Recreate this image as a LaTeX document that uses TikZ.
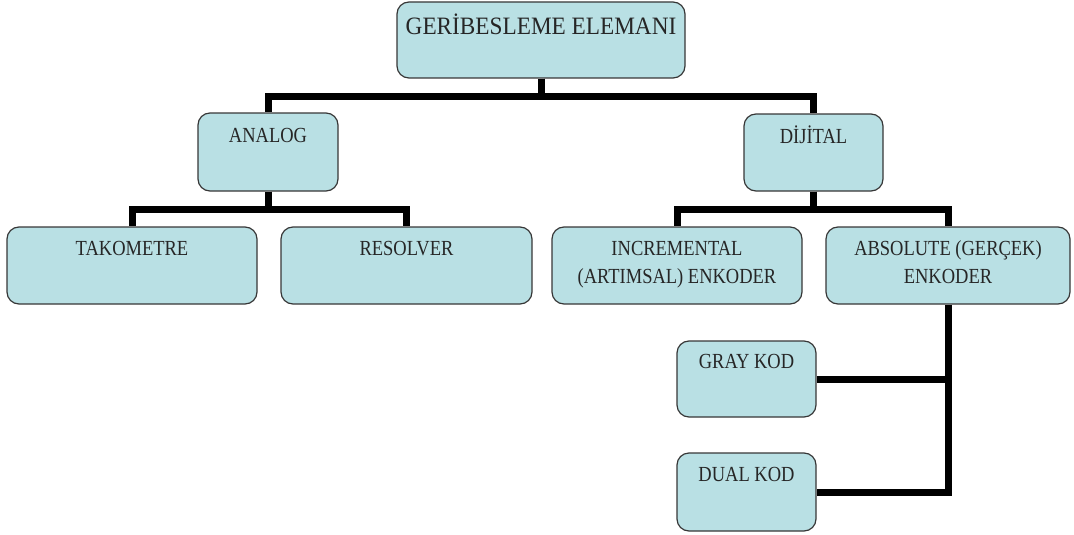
\documentclass[tikz,border=0pt]{standalone}
\usepackage{fontspec}
\setmainfont{Liberation Serif}
\definecolor{boxfill}{RGB}{185,224,228}
\definecolor{boxline}{RGB}{55,55,55}
\newcommand\sqz[1]{\scalebox{0.86}[1]{#1}}
\begin{document}
\begin{tikzpicture}[x=1pt,y=-1pt,
  box/.style={draw=boxline, line width=1.2pt, fill=boxfill, rounded corners=12pt, inner sep=0pt, minimum height=77pt},
  lbl/.style={anchor=base, inner sep=0pt, align=center, font=\fontsize{21.5}{28}\selectfont, text=black!85},
  lbltwo/.style={lbl, anchor=north},
  conn/.style={line width=7pt, line join=miter, draw=black}]
\useasboundingbox (0,0) rectangle (1074,535);
% boxes
\node[box, minimum width=288pt, minimum height=76pt] (top) at (541,40) {};
\node[box, minimum width=140pt, minimum height=78pt] (analog) at (268,152) {};
\node[box, minimum width=139pt] (dijital) at (813.5,152.5) {};
\node[box, minimum width=250pt] (tako) at (132,265.5) {};
\node[box, minimum width=251pt] (resolver) at (406.5,265.5) {};
\node[box, minimum width=250pt] (incr) at (677,265.5) {};
\node[box, minimum width=244pt] (abs) at (948,265.5) {};
\node[box, minimum width=139pt, minimum height=76pt] (gray) at (746.5,379) {};
\node[box, minimum width=139pt, minimum height=78pt] (dual) at (746.5,492) {};
% labels
\node[lbl, font=\fontsize{25}{30}\selectfont] (ttop) at ([yshift=-33pt]top.north) {\scalebox{0.93}[1]{GERİBESLEME ELEMANI}};
\node[lbl] (tanalog) at ([yshift=-30pt]analog.north) {\sqz{ANALOG}};
\node[lbl] (tdijital) at ([yshift=-30pt]dijital.north) {\sqz{DİJİTAL}};
\node[lbl] (ttako) at ([yshift=-29pt]tako.north) {\sqz{TAKOMETRE}};
\node[lbl] (tresolver) at ([yshift=-29pt]resolver.north) {\sqz{RESOLVER}};
\node[lbltwo] (tincr) at ([yshift=-14.5pt]incr.north) {\sqz{INCREMENTAL}\\\sqz{(ARTIMSAL) ENKODER}};
\node[lbltwo] (tabs) at ([yshift=-14pt]abs.north) {\sqz{ABSOLUTE (GERÇEK)}\\\sqz{ENKODER}};
\node[lbl] (tgray) at ([yshift=-28pt]gray.north) {\sqz{GRAY KOD}};
\node[lbl] (tdual) at ([yshift=-29pt]dual.north) {\sqz{DUAL KOD}};
% connectors
\draw[conn] (top.south) -- ++(0,18) -| (analog.north);
\draw[conn] (top.south) -- ++(0,18) -| (dijital.north);
\draw[conn] (analog.south) -- ++(0,18) -| (tako.north);
\draw[conn] (analog.south) -- ++(0,18) -| (resolver.north);
\draw[conn] (dijital.south) -- ++(0,18) -| (incr.north);
\draw[conn] (dijital.south) -- ++(0,18) -| (abs.north);
\draw[conn] (abs.south) |- (dual.east);
\draw[conn] (gray.east) -- (gray.east -| abs.south);
\end{tikzpicture}
\end{document}
